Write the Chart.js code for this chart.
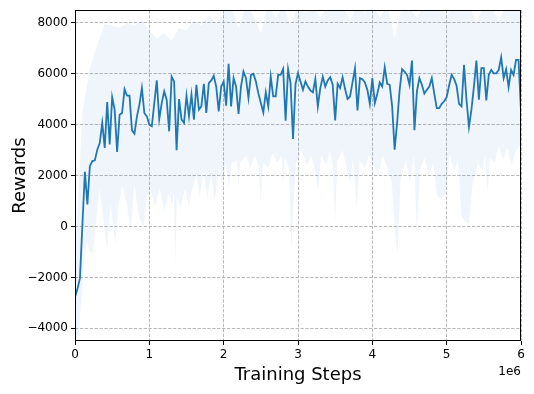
<!DOCTYPE html>
<html>
<head>
<meta charset="utf-8">
<title>Rewards</title>
<script src="https://cdn.jsdelivr.net/npm/chart.js"></script>
<style>
  html, body { margin: 0; padding: 0; background: #fff; }
</style>
</head>
<body>
<canvas id="rewardChart" width="534" height="394"></canvas>
<script>
// training steps are in units of 1e6 (offset label drawn separately)
const checkpointsPerMillion = 30;

// mean reward per checkpoint
const meanReward = [
  -2780, -2450, -2030, 100, 2150, 870, 2370, 2570, 2600, 3020, 3290, 4070, 3090, 4890, 3220, 5080, 4590, 2930, 4390, 4460, 5400, 5140, 5140, 3780, 3650, 4330, 4790, 5440, 4450, 4330,
  4000, 3940, 4850, 5740, 4220, 4850, 5310, 4980, 3740, 5890, 5700, 3000, 5010, 4200, 4070, 5140, 4330, 5180, 4200, 5570, 4590, 4720, 5610, 4460, 5630, 5740, 5920, 5500, 4520, 5500,
  5700, 4750, 6390, 4720, 5830, 5500, 4420, 5500, 6090, 5830, 5050, 5960, 6000, 5700, 5240, 4850, 4480, 5270, 4720, 5890, 5110, 5110, 5960, 5960, 6190, 4160, 6180, 5630, 3440, 5600,
  6020, 5700, 5370, 5700, 5500, 5350, 5270, 5790, 4720, 5440, 5890, 5500, 5740, 5870, 5570, 4170, 5610, 5440, 5870, 5400, 5010, 5110, 5660, 6220, 4560, 5830, 5790, 5660, 5370, 4810,
  5830, 4850, 5220, 5660, 5500, 6260, 5610, 5570, 4720, 3020, 4070, 5350, 6180, 6090, 5960, 5570, 6520, 3780, 5310, 5830, 5570, 5220, 5370, 5500, 5830, 5220, 4650, 4650, 4820, 4920,
  5080, 5550, 5960, 5800, 5530, 4820, 4720, 6350, 4980, 3910, 4590, 5500, 6520, 4980, 6220, 6220, 4950, 5960, 6150, 6020, 6020, 6150, 6650, 5830, 6180, 5480, 6150, 5960, 6550, 6550, 4530
];

// lower edge of the shaded band (steps in 1e6, rewards), spikes kept narrow
const bandLowerSteps = [
  0.00, 0.05, 0.10, 0.15, 0.20, 0.24, 0.28, 0.33, 0.37, 0.43, 0.48, 0.54, 0.58, 0.64, 0.70, 0.75, 0.80, 0.86, 0.92, 0.97,
  1.02, 1.08, 1.14, 1.20, 1.26, 1.31, 1.33, 1.35, 1.37, 1.42, 1.48, 1.53, 1.58, 1.63, 1.68, 1.73, 1.78, 1.83, 1.88, 1.93, 1.98,
  2.03, 2.07, 2.11, 2.18, 2.20, 2.22, 2.30, 2.36, 2.42, 2.47, 2.50, 2.53, 2.60, 2.66, 2.72, 2.78, 2.80, 2.82, 2.88, 2.91, 2.94, 2.97,
  3.05, 3.12, 3.18, 3.23, 3.27, 3.31, 3.38, 3.43, 3.47, 3.50, 3.53, 3.60, 3.66, 3.70, 3.74, 3.79, 3.83, 3.90, 3.96,
  4.02, 4.08, 4.14, 4.20, 4.26, 4.31, 4.34, 4.38, 4.45, 4.51, 4.56, 4.60, 4.64, 4.70, 4.76, 4.82, 4.87, 4.93, 4.99,
  5.04, 5.10, 5.15, 5.20, 5.25, 5.30, 5.35, 5.42, 5.48, 5.52, 5.55, 5.58, 5.65, 5.70, 5.76, 5.82, 5.87, 5.93, 6.00
];
const bandLowerValues = [
  -4500, -4300, -2200, -600, -1000, -1050, 200, 1500, 600, -900, 900, -700, 800, 1600, 800, -100, 1600, 400, 0, 1200,
  1400, 800, 1500, 600, 1300, 900, 1400, -1600, 1200, 700, 1500, 800, 1500, 2000, 1200, 2200, 1100, 2100, 1000, 2200, 1700,
  2500, 1500, 2500, 2600, 1500, 2500, 2800, 2300, 2800, 2400, 900, 2500, 2300, 2900, 2500, 2800, 1600, 2700, 2300, -940, 1000, 2500,
  3000, 2400, 2800, 2200, 1400, 2800, 2400, 3000, 2400, 200, 2600, 3000, 2200, 1700, 2700, 740, 2600, 2300, 2800,
  2400, 2000, 2800, 2300, 1800, -400, -1050, 1800, 2600, 1800, 2800, -270, 2200, 2700, 2000, 2500, 1200, 1100, 1300,
  2800, 2200, 2600, 400, 200, 100, 1700, 2500, 2200, 2800, 1300, 2700, 2500, 3200, 2600, 3100, 2400, 3000, 3200
];

// upper edge of the shaded band, every 0.1e6 steps (goes past the top of the axes)
const bandUpperPerMillion = 10;
const bandUpper = [
  -1500, 4500, 6200, 7150, 7950, 7900, 7800, 8000, 7900, 8100,
  7700, 7400, 7600, 7300, 7800, 7700, 8100, 7900, 8300, 8000,
  8400, 8700, 7800, 8700, 8300, 7600, 8700, 8200, 8700, 7900,
  8700, 8400, 8700, 8200, 8700, 8500, 8700, 8100, 8700, 8400,
  8700, 8200, 8700, 7400, 8700, 8600, 8200, 8700, 8600, 8700,
  8300, 8700, 8600, 8700, 8000, 8700, 8600, 8100, 8700, 8600,
  8700
];

const xTicks = [0, 1, 2, 3, 4, 5, 6];
const yTicks = [-4000, -2000, 0, 2000, 4000, 6000, 8000];

const toPoints = (vals, perMillion) => vals.map((v, i) => ({x: i / perMillion, y: v}));

Chart.defaults.font.family = '"DejaVu Sans", sans-serif';
Chart.defaults.font.size = 12;
Chart.defaults.color = '#000';

const gridStyle = {
  color: '#b8b8b8',
  lineWidth: 1,
  tickColor: '#000',
  tickLength: 4,
  tickWidth: 1
};

// matplotlib-ish frame around the axes plus the "1e6" offset text
const framePlugin = {
  id: 'frame',
  afterDraw(chart) {
    const {ctx, chartArea: a} = chart;
    ctx.save();
    ctx.strokeStyle = '#000';
    ctx.lineWidth = 1;
    ctx.strokeRect(Math.round(a.left) + 0.5, Math.round(a.top) + 0.5,
                   Math.round(a.right - a.left) - 1, Math.round(a.bottom - a.top) - 1);
    ctx.fillStyle = '#000';
    ctx.font = '12px "DejaVu Sans"';
    ctx.textAlign = 'right';
    ctx.textBaseline = 'middle';
    ctx.fillText('1e6', a.right, a.bottom + 31);
    ctx.restore();
  }
};

new Chart(document.getElementById('rewardChart'), {
  type: 'line',
  data: {
    datasets: [
      {
        label: 'mean',
        data: toPoints(meanReward, checkpointsPerMillion),
        borderColor: '#1f77b4',
        borderWidth: 1.8,
        pointRadius: 0,
        tension: 0,
        fill: false
      },
      {
        label: 'lower',
        data: bandLowerSteps.map((s, i) => ({x: s, y: bandLowerValues[i]})),
        borderWidth: 0,
        borderColor: 'rgba(0,0,0,0)',
        pointRadius: 0,
        tension: 0,
        fill: false
      },
      {
        label: 'upper',
        data: toPoints(bandUpper, bandUpperPerMillion),
        borderWidth: 0,
        borderColor: 'rgba(0,0,0,0)',
        backgroundColor: 'rgba(31,119,180,0.07)',
        pointRadius: 0,
        tension: 0,
        fill: 1
      }
    ]
  },
  options: {
    responsive: false,
    animation: false,
    layout: { padding: { top: 9, right: 13, left: 0, bottom: 0 } },
    plugins: {
      legend: { display: false },
      tooltip: { enabled: false }
    },
    scales: {
      x: {
        type: 'linear',
        min: 0,
        max: 6,
        afterBuildTicks: s => { s.ticks = xTicks.map(v => ({value: v})); },
        afterFit: s => { s.height = 53; },
        ticks: { padding: 3, maxRotation: 0, autoSkip: false, callback: v => String(v) },
        grid: gridStyle,
        border: { display: false, dash: [3.4, 1.5] },
        title: { display: true, text: 'Training Steps', font: { size: 18 }, padding: { top: 0, bottom: 8 } }
      },
      y: {
        type: 'linear',
        min: -4500,
        max: 8500,
        afterBuildTicks: s => { s.ticks = yTicks.map(v => ({value: v})); },
        afterFit: s => { s.width = 75; },
        ticks: { padding: 3, callback: v => (v < 0 ? '\u2212' + Math.abs(v) : String(v)) },
        grid: gridStyle,
        border: { display: false, dash: [3.4, 1.5] },
        title: { display: true, text: 'Rewards', font: { size: 18 }, padding: { top: 10, bottom: 0 } }
      }
    }
  },
  plugins: [framePlugin]
});
</script>
</body>
</html>
